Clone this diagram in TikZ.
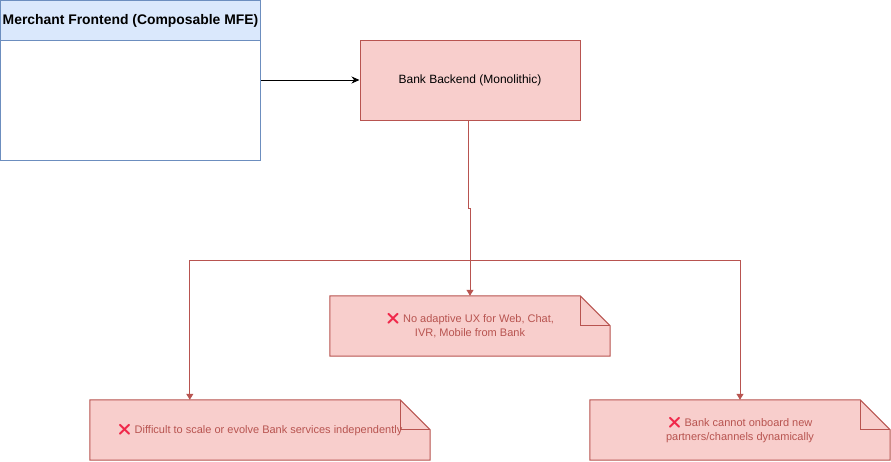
\documentclass[tikz,border=0pt]{standalone}
\usepackage{fontspec}
\setmainfont{Liberation Sans}
\newfontfamily\emojifont{Noto Emoji}
\usetikzlibrary{arrows.meta,backgrounds}
\definecolor{blueFill}{HTML}{DAE8FC}
\definecolor{blueLine}{HTML}{6C8EBF}
\definecolor{redFill}{HTML}{F8CECC}
\definecolor{redLine}{HTML}{B85450}
\definecolor{crossRed}{HTML}{F0284A}
\newcommand{\crossmark}{{\emojifont\color{crossRed}\char"274C}\ }
% folded note outline drawn behind a node
\newcommand{\notefold}[1]{%
	\filldraw[redLine,fill=redFill,line width=1pt] (#1.south west) -- (#1.north west) -- ([xshift=-30pt]#1.north east) -- ([yshift=-30pt]#1.north east) -- (#1.south east) -- cycle;
	\draw[redLine,line width=1pt] ([xshift=-30pt]#1.north east) |- ([yshift=-30pt]#1.north east);
}
\begin{document}
\begin{tikzpicture}[x=1pt,y=-1pt,
	box/.style={line width=1pt,inner sep=0pt,anchor=north west},
	bankbox/.style={draw=redLine,fill=redFill,line width=1pt,minimum width=220pt,minimum height=80pt,font=\fontsize{12}{14}\selectfont},
	notebox/.style={minimum height=60pt,inner sep=0pt,align=center,text=redLine,font=\fontsize{11}{14}\selectfont},
	flow/.style={line width=1pt,-{Stealth[length=8pt,width=7pt]}},
	redflow/.style={redLine,line width=1pt,-{Triangle[length=6pt,width=7pt]}}]
	\useasboundingbox (0,0) rectangle (891,461);
	% merchant frontend
	\node[box,draw=blueLine,fill=blueFill,minimum width=260pt,minimum height=40pt,font=\bfseries\fontsize{13.9}{16}\selectfont] (mfehead) at (0,0) {Merchant Frontend (Composable MFE)};
	\node[box,draw=blueLine,fill=white,minimum width=260pt,minimum height=120pt] (mfe) at (0,40) {};
	% backend
	\node[bankbox] (bank) at (470,80) {Bank Backend (Monolithic)};
	\draw[flow] (mfe.east |- bank.west) -- (bank.west);
	% notes
	\node[notebox,minimum width=280pt] (ux) at (470,326) {\crossmark No adaptive UX for Web, Chat,\\IVR, Mobile from Bank};
	\node[notebox,minimum width=340pt] (scale) at (260,430) {\crossmark Difficult to scale or evolve Bank services independently};
	\node[notebox,minimum width=300pt] (onboard) at (740,430) {\crossmark Bank cannot onboard new\\partners/channels dynamically};
	\begin{scope}[on background layer]
		\notefold{ux}
		\notefold{scale}
		\notefold{onboard}
	\end{scope}
	% links
	\coordinate (split) at (470,260);
	\draw[redflow] ([xshift=-2pt]bank.south) -- ++(0,88) -- ++(2,0) -- (ux.north);
	\draw[redflow] (split) -| ([xshift=100pt]scale.north west);
	\draw[redflow] (split) -| (onboard.north);
\end{tikzpicture}
\end{document}
